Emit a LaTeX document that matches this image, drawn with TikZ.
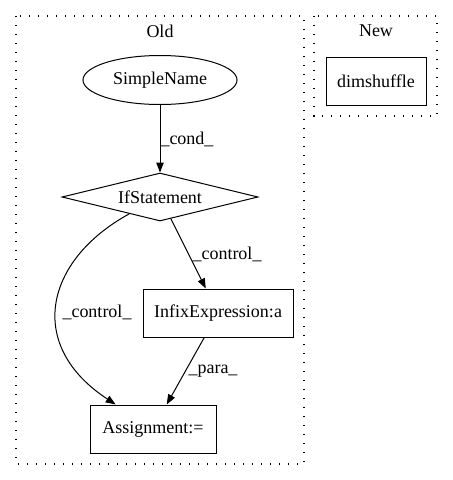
\documentclass[tikz,border=0pt]{standalone}
\usepackage{fontspec}
\setmainfont{Liberation Serif}
\usetikzlibrary{arrows.meta,shapes.geometric}
\begin{document}
\begin{tikzpicture}[x=1pt,y=-1pt,
  every node/.style={font=\fontsize{18}{20}\selectfont, inner sep=0pt},
  cluster/.style={draw, line width=1.3pt, dash pattern=on 1.3pt off 7.7pt},
  boxnode/.style={draw, line width=1pt, rectangle, minimum height=48pt},
  edge/.style={draw, line width=1pt, -{Triangle[length=10pt,width=7.5pt]}},
  elabel/.style={font=\fontsize{18}{20}\selectfont}]
\useasboundingbox (0,0) rectangle (453,480);
\draw[cluster] (16,16) rectangle (304,464);
\draw[cluster] (314,16) rectangle (437,116);
\node (oldlabel) at (160,31) {Old};
\node (newlabel) at (376,31) {New};
\node[draw, line width=1pt, ellipse, minimum width=154pt, minimum height=49pt] (sn) at (160,80) {SimpleName};
\node[boxnode, minimum width=100pt] (dim) at (376,81) {dimshuffle};
\node[draw, line width=1pt, diamond, aspect=4.08, minimum width=196pt, minimum height=48pt] (if) at (160,197) {IfStatement};
\node[boxnode, minimum width=150pt] (infix) at (218,313) {InfixExpression:a};
\node[boxnode, minimum width=126pt] (asg) at (153,429) {Assignment:=};
\draw[edge] (sn) -- (if);
\node[elabel] (l1) at (187,139) {\_cond\_};
\draw[edge] (if) -- (infix);
\node[elabel] (l2) at (227,254) {\_control\_};
\draw[edge] (if) .. controls (45,260) and (25,345) .. (asg);
\node[elabel] (l3) at (97,312) {\_control\_};
\draw[edge] (infix) -- (asg);
\node[elabel] (l4) at (213,371) {\_para\_};
\end{tikzpicture}
\end{document}
